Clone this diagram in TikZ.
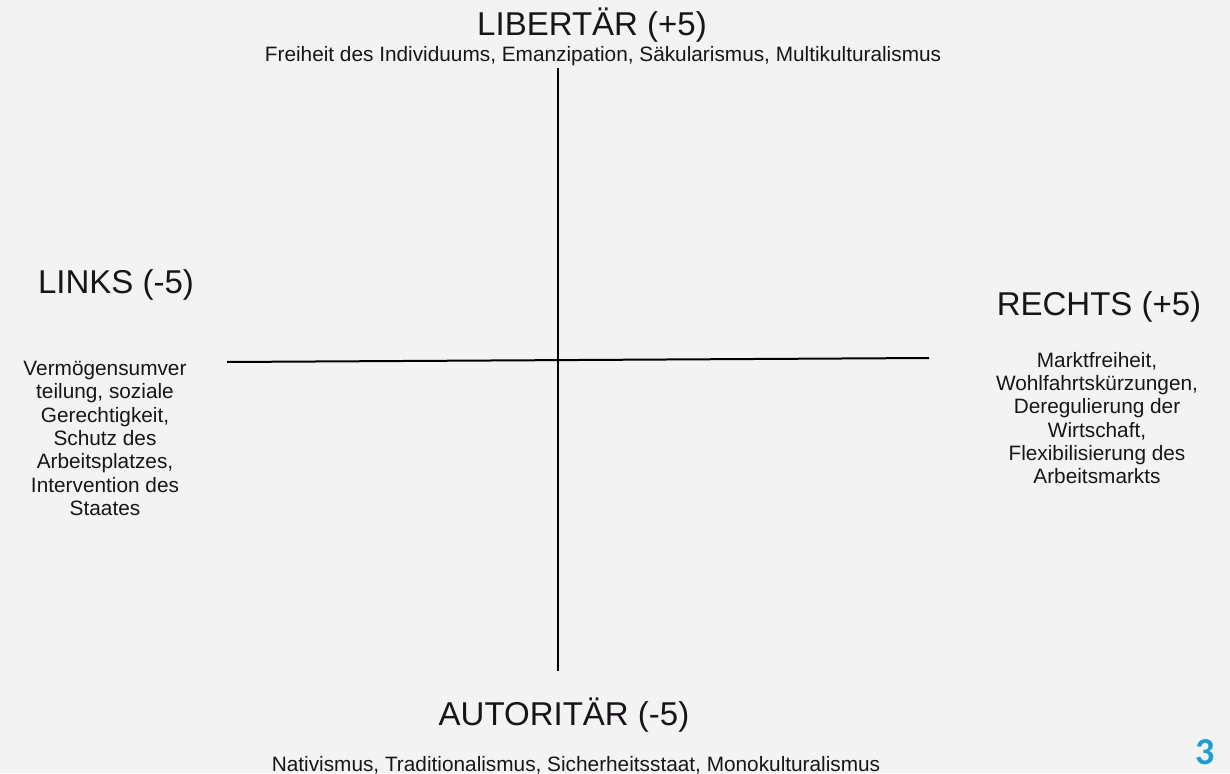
\documentclass[tikz,border=0pt]{standalone}
\usepackage{fontspec}
\setmainfont{Liberation Sans}
\newfontfamily\numfont{Carlito}
\definecolor{bg}{RGB}{243,243,243}
\definecolor{txt}{RGB}{25,20,25}
\definecolor{pagenum}{RGB}{28,158,212}
\begin{document}
\begin{tikzpicture}[x=1pt,y=-1pt,
  title/.style={inner sep=0pt, anchor=base, text=txt, font=\fontsize{33}{38}\selectfont},
  subtitle/.style={inner sep=0pt, anchor=base, text=txt, font=\fontsize{20.8}{24}\selectfont},
  sideblock/.style={inner sep=0pt, anchor=north, align=center, text=txt, font=\fontsize{20.8}{23.3}\selectfont},
  axis/.style={line width=2pt, black}]
\fill[bg] (0,0) rectangle (1230,773);
\useasboundingbox (0,0) rectangle (1230,773);
% axes
\coordinate (top) at (558,68);
\coordinate (bottom) at (558,671);
\coordinate (left) at (227,362);
\coordinate (right) at (929,358);
\draw[axis] (top) -- (bottom);
\draw[axis] (left) -- (right);
% labels
\node[title] (lib) at (592,36) {LIBERTÄR (+5)};
\node[subtitle] (libsub) at (603,62) {Freiheit des Individuums, Emanzipation, Säkularismus, Multikulturalismus};
\node[title] (links) at (116,293) {LINKS (-5)};
\node[sideblock] (linkssub) at (105,361) {Vermögensumver\\teilung, soziale\\Gerechtigkeit,\\Schutz des\\Arbeitsplatzes,\\Intervention des\\Staates};
\node[title] (rechts) at (1099,315) {RECHTS (+5)};
\node[sideblock] (rechtssub) at (1097,352) {Marktfreiheit,\\Wohlfahrtskürzungen,\\Deregulierung der\\Wirtschaft,\\Flexibilisierung des\\Arbeitsmarkts};
\node[title] (aut) at (564,725) {AUTORITÄR (-5)};
\node[subtitle] (autsub) at (576,771) {Nativismus, Traditionalismus, Sicherheitsstaat, Monokulturalismus};
\node[inner sep=0pt, anchor=base, text=pagenum, font=\numfont\bfseries\fontsize{38}{44}\selectfont] (num) at (1205,764) {3};
\end{tikzpicture}
\end{document}
